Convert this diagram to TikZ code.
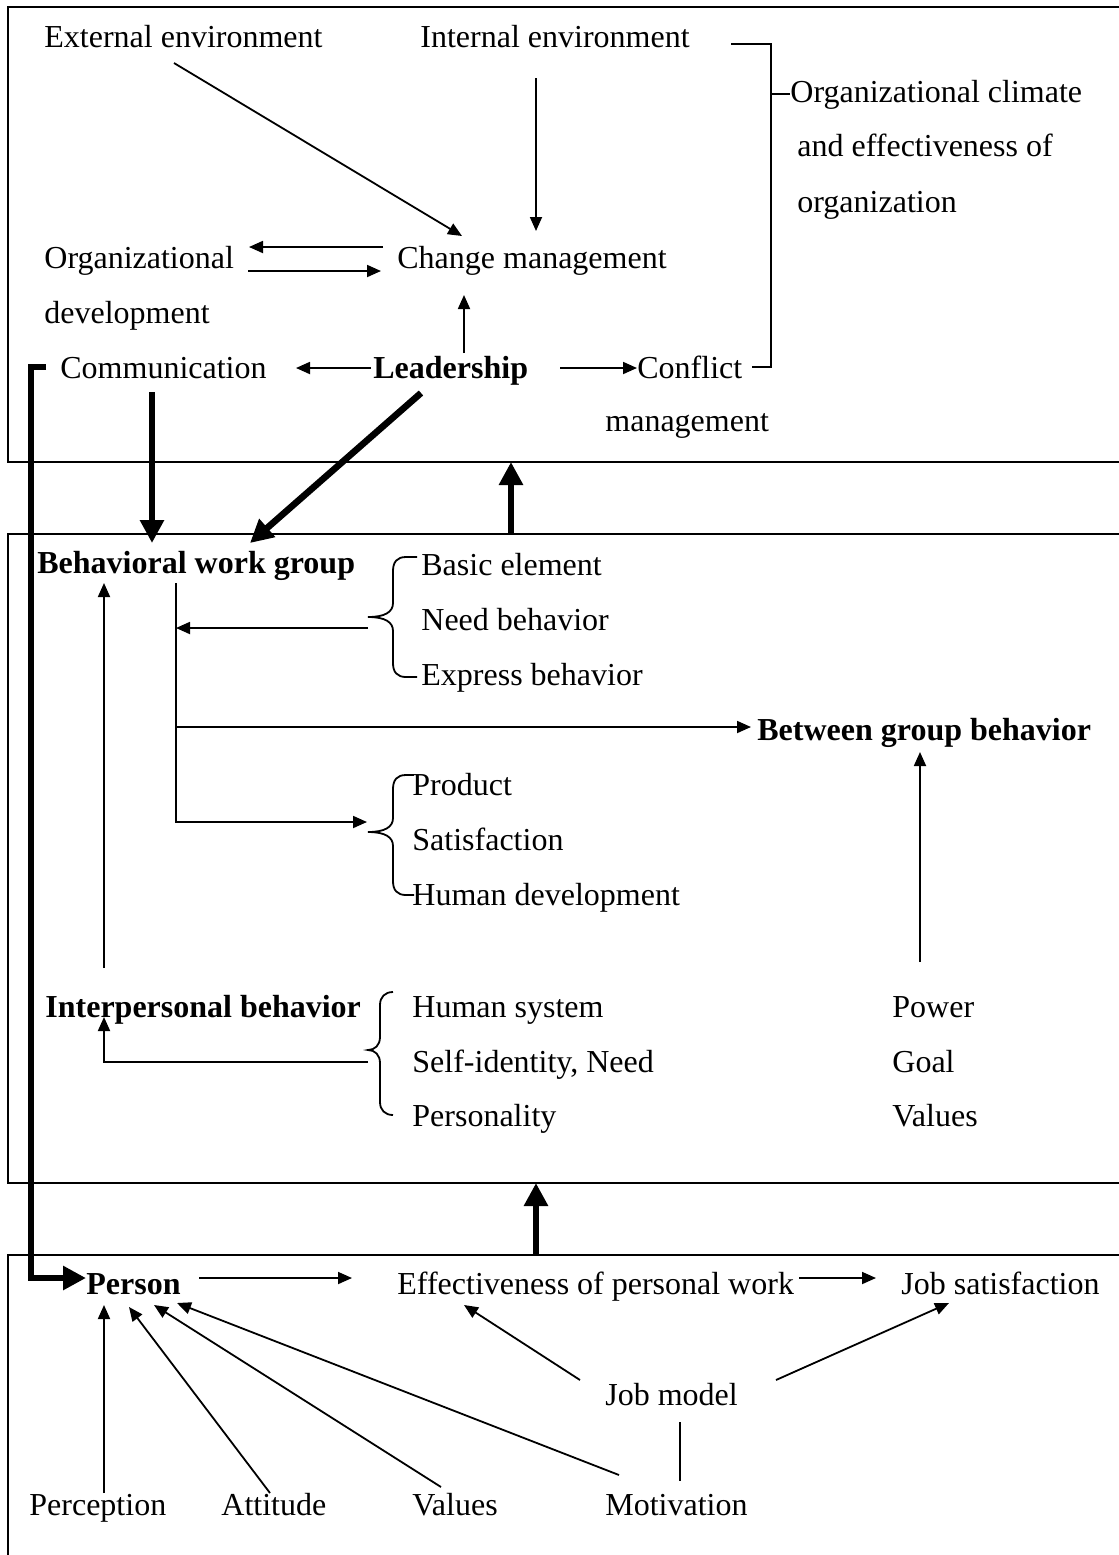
\documentclass[tikz,border=0pt]{standalone}
\usepackage{fontspec}
\setmainfont{Liberation Serif}
\usetikzlibrary{arrows.meta}
\tikzset
{
    txt/.style = {anchor=base west, inner sep=0pt, font=\fontsize{16}{19}\selectfont},
    btxt/.style = {txt, font=\fontsize{16}{19}\selectfont\bfseries},
    wire/.style = {line width=0.9pt},
    arr/.style = {wire, -{Triangle[length=7pt,width=6pt]}},
    fatarr/.style = {line width=3.3pt, -{Triangle[length=11.5pt,width=11.5pt]}},
    frame/.style = {line width=1pt}
}
\begin{document}
\begin{tikzpicture}[x=0.5pt, y=-0.5pt]
\useasboundingbox (0,0) rectangle (1119,1555);
% the three panels, open on the right
\draw[frame] (1119,7) -- (8,7) -- (8,462) -- (1119,462);
\draw[frame] (1119,534) -- (8,534) -- (8,1183) -- (1119,1183);
\draw[frame] (1119,1255) -- (8,1255) -- (8,1555);
\coordinate (top-sw) at (8,462);
\coordinate (mid-nw) at (8,534);
\coordinate (mid-sw) at (8,1183);
\coordinate (bot-nw) at (8,1255);

% organization level
\node[txt] (ext) at (44,47) {External environment};
\node[txt] (int) at (420,47) {Internal environment};
\node[txt] (climA) at (790,102) {Organizational climate};
\node[txt] (climB) at (797,156) {and effectiveness of};
\node[txt] (climC) at (797,212) {organization};
\node[txt] (orgA) at (44,268) {Organizational};
\node[txt] (orgB) at (44,323) {development};
\node[txt] (chg) at (397,268) {Change management};
\node[txt] (comm) at (60,378) {Communication};
\node[btxt] (lead) at (373,378) {Leadership};
\node[txt] (conA) at (637,378) {Conflict};
\node[txt] (conB) at (605,431) {management};

% group level
\node[btxt] (bwg) at (37,573) {Behavioral work group};
\node[txt] (basic) at (421,575) {Basic element};
\node[txt] (needb) at (421,630) {Need behavior};
\node[txt] (expr) at (421,685) {Express behavior};
\node[btxt] (bgb) at (757,740) {Between group behavior};
\node[txt] (prod) at (412,795) {Product};
\node[txt] (satis) at (412,850) {Satisfaction};
\node[txt] (hdev) at (412,905) {Human development};
\node[btxt] (ipb) at (45,1017) {Interpersonal behavior};
\node[txt] (hsys) at (412,1017) {Human system};
\node[txt] (selfid) at (412,1072) {Self-identity, Need};
\node[txt] (perso) at (412,1126) {Personality};
\node[txt] (power) at (892,1017) {Power};
\node[txt] (goal) at (892,1072) {Goal};
\node[txt] (gval) at (892,1126) {Values};

% individual level
\node[btxt] (person) at (86,1294) {Person};
\node[txt] (eff) at (397,1294) {Effectiveness of personal work};
\node[txt] (jsat) at (901,1294) {Job satisfaction};
\node[txt] (jmod) at (605,1405) {Job model};
\node[txt] (perc) at (29,1515) {Perception};
\node[txt] (att) at (221,1515) {Attitude};
\node[txt] (val) at (412,1515) {Values};
\node[txt] (motiv) at (605,1515) {Motivation};

% top panel arrows
\draw[arr] ([shift={(130,16)}]ext.base west) -- ([shift={(65,-32)}]chg.base west);
\draw[arr] ([shift={(116,31)}]int.base west) -- ([shift={(139,-37)}]chg.base west);
\draw[arr] ([shift={(-14,-21)}]chg.base west) -- ([shift={(205,-21)}]orgA.base west);
\draw[arr] ([shift={(204,3)}]orgA.base west) -- ([shift={(-16,3)}]chg.base west);
\draw[arr] ([shift={(91,-25)}]lead.base west) -- ([shift={(67,27)}]chg.base west);
\draw[arr] ([shift={(-2,-10)}]lead.base west) -- ([shift={(236,-10)}]comm.base west);
\draw[arr] ([shift={(187,-10)}]lead.base west) -- ([shift={(0,-10)}]conA.base west);
\coordinate (brk) at (771,94);
\draw[wire] ([shift={(311,-3)}]int.base west) -| (brk) |- ([shift={(115,-11)}]conA.base west);
\draw[wire] (brk) -- (climA.base west |- brk);

% thick links between panels
\draw[fatarr] ([shift={(92,14)}]comm.base west) -- ([shift={(115,-30)}]bwg.base west);
\draw[fatarr] ([shift={(48,15)}]lead.base west) -- ([shift={(213,-30)}]bwg.base west);
\draw[fatarr] ([shift={(-14,-11)}]comm.base west) -- ++(-15,0) |- ([shift={(0,-16)}]person.base west);
\draw[fatarr] ([shift={(503,0)}]mid-nw) -- ([shift={(503,0)}]top-sw);
\draw[fatarr] ([shift={(528,0)}]bot-nw) -- ([shift={(528,0)}]mid-sw);

% middle panel
\draw[wire] (417,557) -- (406,557) .. controls (397,557) and (393,562) .. (393,571) -- (393,603) .. controls (393,612) and (385,617) .. (368,617) .. controls (385,617) and (393,622) .. (393,631) -- (393,663) .. controls (393,672) and (397,677) .. (406,677) -- (417,677);
\draw[wire] (414,775) -- (406,775) .. controls (397,775) and (393,780) .. (393,789) -- (393,818) .. controls (393,827) and (385,832) .. (368,832) .. controls (385,832) and (393,837) .. (393,846) -- (393,881) .. controls (393,890) and (397,895) .. (406,895) -- (414,895);
\draw[wire] (393,992) .. controls (385,992) and (380,997) .. (380,1005) -- (380,1037) .. controls (380,1045) and (375,1050) .. (368,1050) .. controls (375,1050) and (380,1055) .. (380,1063) -- (380,1102) .. controls (380,1110) and (385,1115) .. (393,1115);
\draw[arr] ([shift={(139,10)}]bwg.base west) |- ([shift={(-45,27)}]prod.base west);
\draw[arr] ([shift={(-53,-2)}]needb.base west) -- ([shift={(139,55)}]bwg.base west);
\draw[arr] ([shift={(139,154)}]bwg.base west) -- ([shift={(-6,-13)}]bgb.base west);
\draw[arr] ([shift={(59,-49)}]ipb.base west) -- ([shift={(67,10)}]bwg.base west);
\draw[arr] ([shift={(-44,-10)}]selfid.base west) -| ([shift={(59,0)}]ipb.base west);
\draw[arr] ([shift={(28,-55)}]power.base west) -- ([shift={(163,12)}]bgb.base west);

% bottom panel
\draw[arr] ([shift={(113,-16)}]person.base west) -- ([shift={(-45,-16)}]eff.base west);
\draw[arr] ([shift={(402,-16)}]eff.base west) -- ([shift={(-25,-16)}]jsat.base west);
\draw[arr] ([shift={(75,-22)}]perc.base west) -- ([shift={(18,11)}]person.base west);
\draw[arr] ([shift={(49,-22)}]att.base west) -- ([shift={(43,13)}]person.base west);
\draw[arr] ([shift={(29,-28)}]val.base west) -- ([shift={(68,11)}]person.base west);
\draw[arr] ([shift={(14,-40)}]motiv.base west) -- ([shift={(91,9)}]person.base west);
\draw[arr] ([shift={(-25,-25)}]jmod.base west) -- ([shift={(67,11)}]eff.base west);
\draw[arr] ([shift={(171,-25)}]jmod.base west) -- ([shift={(48,9)}]jsat.base west);
\draw[wire] ([shift={(75,17)}]jmod.base west) -- ([shift={(75,-34)}]motiv.base west);
\end{tikzpicture}
\end{document}
